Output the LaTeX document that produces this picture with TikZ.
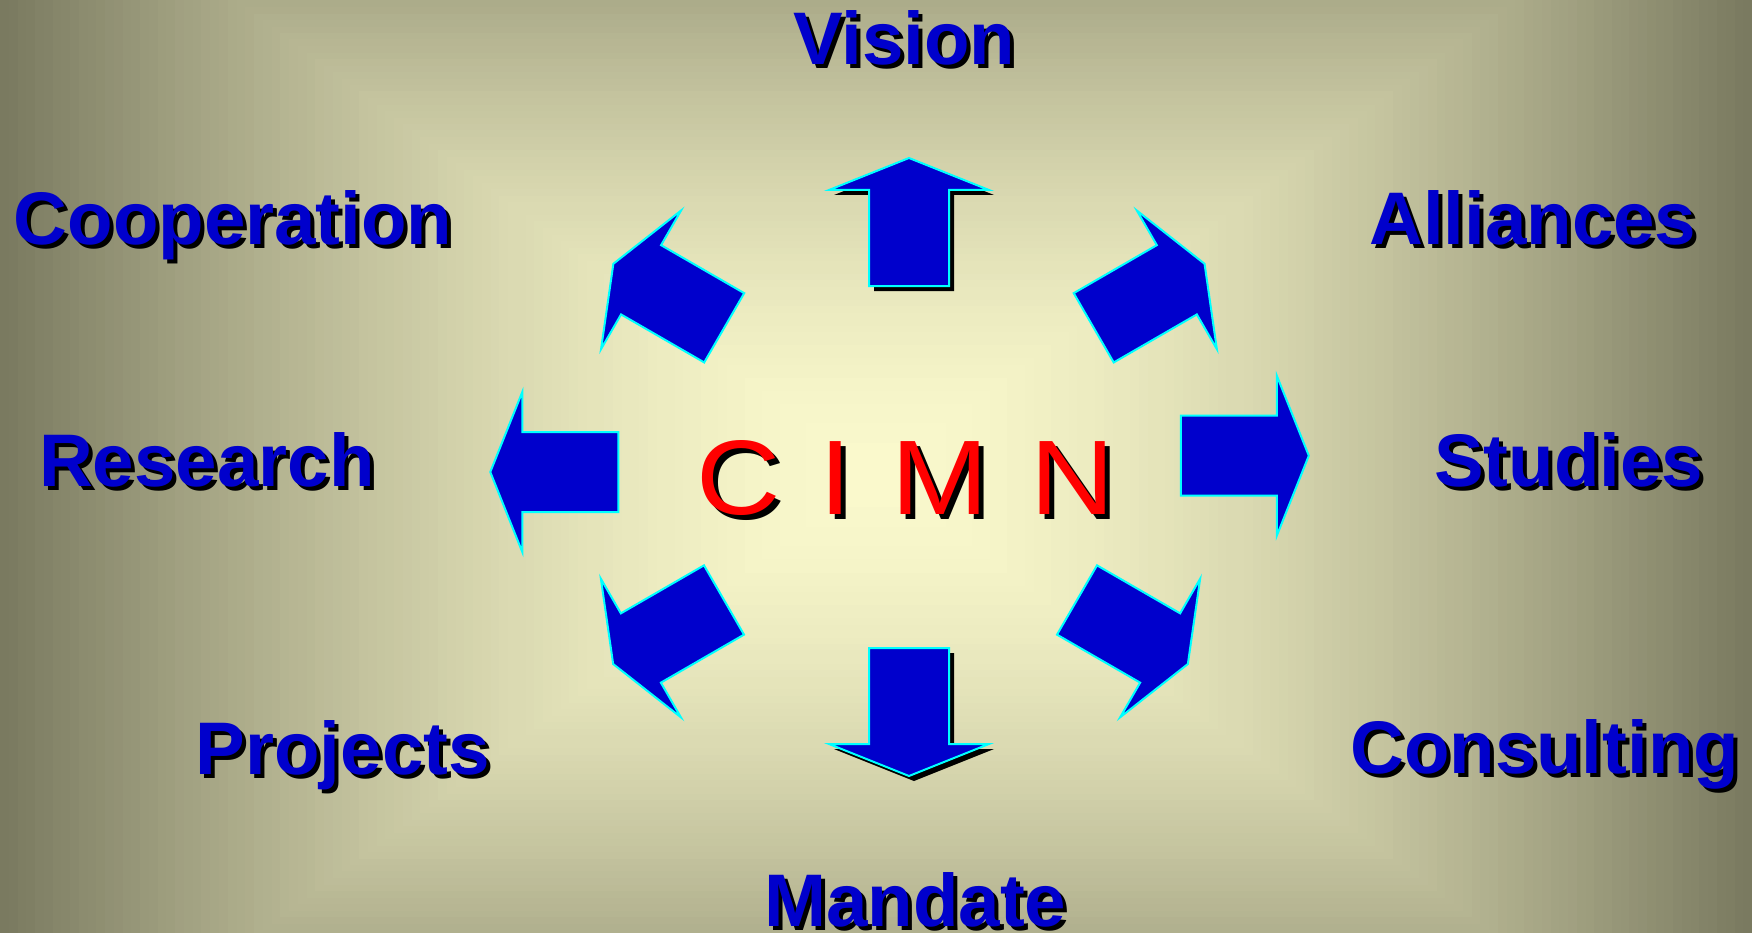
\documentclass[tikz,border=0pt]{standalone}
\usepackage{fontspec}
\usepackage{graphicx}
\setmainfont{Liberation Sans}
\definecolor{bgc}{RGB}{251,250,205}
\definecolor{bge}{RGB}{122,122,96}
\definecolor{arrowblue}{RGB}{0,0,204}
\definecolor{arrowcyan}{RGB}{0,255,255}
\definecolor{labelblue}{RGB}{0,0,204}
\definecolor{cimnred}{RGB}{255,0,0}
\newcommand\lblfont{\fontsize{74.5}{80}\selectfont\bfseries}
\newcommand\cimnfont{\fontsize{106}{110}\selectfont}
\newcommand\cimntext{\scalebox{1.1}[1]{C \hspace{5.8pt}I \hspace{6.8pt}M \hspace{8.6pt}N}}
\tikzset{
  arrowbody/.style={fill=arrowblue, draw=arrowcyan, line width=2pt, line join=miter},
  arrowshadow/.style={fill=black},
  bigarrow/.pic={\path[pic actions] (0,-40) -- (96,-40) -- (96,-80) -- (128,0) -- (96,80) -- (96,40) -- (0,40) -- cycle;},
  lbl/.style={font=\lblfont, text=labelblue, anchor=base west, inner sep=0pt},
  lblshadow/.style={font=\lblfont, text=black, anchor=base west, inner sep=0pt},
  cimn/.style={font=\cimnfont, text=cimnred, anchor=base west, inner sep=0pt},
  cimnshadow/.style={font=\cimnfont, text=black, anchor=base west, inner sep=0pt},
}
\begin{document}
\begin{tikzpicture}[x=1pt, y=-1pt]
\path[use as bounding box] (0,0) rectangle (1752,933);
% background: rectangular gradient
\begin{scope}
\clip (0,0) rectangle (1752,933);
\fill[bge] (0,0) rectangle (1752,933);
\foreach \i in {100,99,...,1} {
  \pgfmathsetmacro\tt{\i/100}
  \pgfmathtruncatemacro\pp{100*(1-\tt^1.6)}
  \fill[bgc!\pp!bge] ({876-876*\tt},{475-650*\tt}) rectangle ({876+876*\tt},{475+650*\tt});
}
\end{scope}
% arrows
\pic[arrowshadow, rotate=90] at (914,291) {bigarrow};
\pic[arrowbody, rotate=90] (aup) at (909,286) {bigarrow};
\pic[arrowshadow, rotate=270] at (914,653) {bigarrow};
\pic[arrowbody, rotate=270] (adown) at (909,648) {bigarrow};
\pic[arrowbody, rotate=180] (aleft) at (618.3,472) {bigarrow};
\pic[arrowbody, rotate=0] (aright) at (1180.8,455.7) {bigarrow};
\pic[arrowbody, rotate=150] (aul) at (724.2,327.8) {bigarrow};
\pic[arrowbody, rotate=30] (aur) at (1093.7,327.8) {bigarrow};
\pic[arrowbody, rotate=210] (all) at (724,600) {bigarrow};
\pic[arrowbody, rotate=330] (alr) at (1077,600) {bigarrow};
% centre text
\node[cimnshadow] (cimn-s) at (701,519) {\cimntext};
\node[cimn] (cimn) at (696,514) {\cimntext};
% labels
\node[lblshadow] (vision-s) at (797,68.5) {Vision};
\node[lbl] (vision) at (793,64.5) {Vision};
\node[lblshadow] (coop-s) at (17.5,249) {Cooperation};
\node[lbl] (coop) at (13.5,245) {Cooperation};
\node[lblshadow] (alli-s) at (1373,249) {Alliances};
\node[lbl] (alli) at (1369,245) {Alliances};
\node[lblshadow] (res-s) at (43,490) {Research};
\node[lbl] (res) at (39,486) {Research};
\node[lblshadow] (stud-s) at (1438,490) {Studies};
\node[lbl] (stud) at (1434,486) {Studies};
\node[lblshadow] (proj-s) at (199.5,778) {Projects};
\node[lbl] (proj) at (195.5,774) {Projects};
\node[lblshadow] (cons-s) at (1354,777) {Consulting};
\node[lbl] (cons) at (1350,773) {Consulting};
\node[lblshadow] (mand-s) at (768,930) {Mandate};
\node[lbl] (mand) at (764,926) {Mandate};
\end{tikzpicture}
\end{document}
